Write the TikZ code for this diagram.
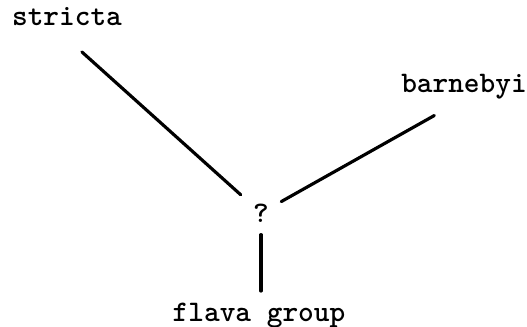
\documentclass[tikz,border=0pt]{standalone}
\usetikzlibrary{calc}
\begin{document}
\begin{tikzpicture}[font=\fontsize{8.5}{10}\selectfont\ttfamily\bfseries, line join=round, line cap=round, nhanh/.style={line width=0.9pt}]
	\useasboundingbox (0,0) rectangle (5.27,3.27);
	\path
	(0.67,3.10) node (stricta) {stricta}
	(4.64,2.40) node (barnebyi) {barnebyi}
	(2.61,1.14) node (q) {?}
	(2.59,0.11) node (flava) {flava group};
	\draw[nhanh, shorten <=0.2cm] (stricta.south)--(q); %nhánh trái
	\draw[nhanh, shorten >=0.34cm] (q)--($(barnebyi.south)+(0,0.13)$); %nhánh phải
	\draw[nhanh] (q)--(q|-flava.north); %nhánh dưới
\end{tikzpicture}
\end{document}
